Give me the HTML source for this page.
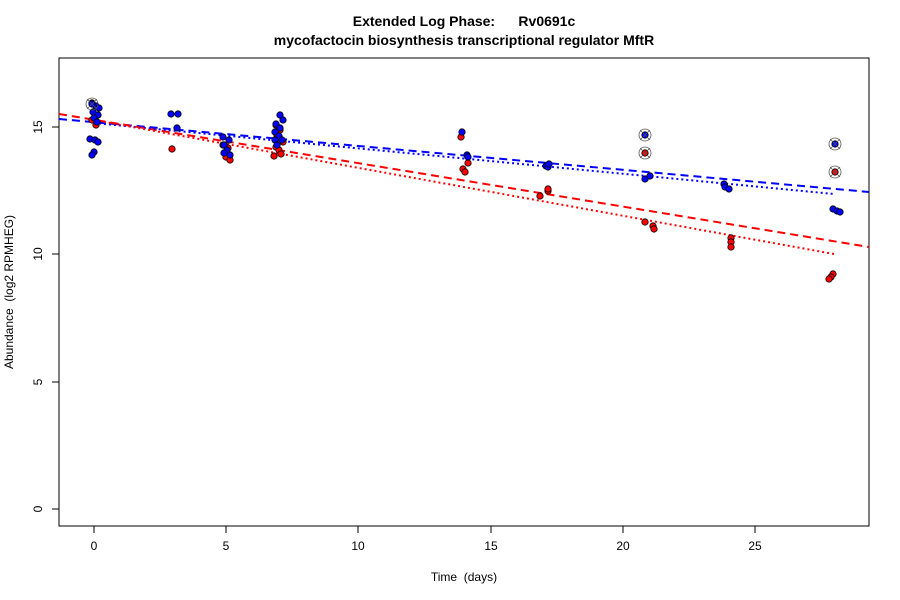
<!DOCTYPE html>
<html><head><meta charset="utf-8"><style>body{margin:0;background:#fff}svg{display:block}text{font-family:"Liberation Sans",sans-serif}</style></head><body>
<svg width="900" height="600" viewBox="0 0 900 600">
<text x="464" y="26" text-anchor="middle" font-size="14" font-weight="bold">Extended Log Phase:&#160;&#160;&#160;&#160;&#160;&#160;Rv0691c</text>
<text x="464" y="45" text-anchor="middle" font-size="14" font-weight="bold">mycofactocin biosynthesis transcriptional regulator MftR</text>
<rect x="59" y="58" width="810" height="468" fill="none" stroke="#000"/>
<g stroke="#000">
<line x1="94" y1="526" x2="755" y2="526"/>
<line x1="94" y1="526" x2="94" y2="533"/><line x1="226" y1="526" x2="226" y2="533"/><line x1="358" y1="526" x2="358" y2="533"/><line x1="491" y1="526" x2="491" y2="533"/><line x1="623" y1="526" x2="623" y2="533"/><line x1="755" y1="526" x2="755" y2="533"/>
<line x1="59" y1="127" x2="59" y2="509"/>
<line x1="52" y1="509" x2="59" y2="509"/><line x1="52" y1="382" x2="59" y2="382"/><line x1="52" y1="254" x2="59" y2="254"/><line x1="52" y1="127" x2="59" y2="127"/>
</g>
<g font-size="12" text-anchor="middle">
<text x="94" y="550">0</text><text x="226" y="550">5</text><text x="358" y="550">10</text><text x="491" y="550">15</text><text x="623" y="550">20</text><text x="755" y="550">25</text>
<text transform="translate(42,509) rotate(-90)">0</text><text transform="translate(42,382) rotate(-90)">5</text><text transform="translate(42,254) rotate(-90)">10</text><text transform="translate(42,127) rotate(-90)">15</text>
<text x="464" y="581">Time&#160;&#160;(days)</text>
<text transform="translate(13,292) rotate(-90)">Abundance&#160;&#160;(log2 RPMHEG)</text>
</g>
<g stroke-width="2" fill="none">
<line x1="59" y1="119" x2="869" y2="192" stroke="#00f" stroke-dasharray="8,5"/>
<line x1="59" y1="114" x2="869" y2="247" stroke="#f00" stroke-dasharray="8,5"/>
<line x1="94" y1="123" x2="834" y2="194" stroke="#00f" stroke-dasharray="2,3"/>
<line x1="94" y1="120" x2="834" y2="254" stroke="#f00" stroke-dasharray="2,3"/>
</g>
<g stroke="#000" stroke-width="0.8" fill="#f00">
<circle cx="92" cy="120" r="3.2"/><circle cx="96" cy="125" r="3.2"/><circle cx="172" cy="149" r="3.2"/>
<circle cx="223" cy="145" r="3.2"/><circle cx="228" cy="148" r="3.2"/><circle cx="225" cy="153" r="3.2"/><circle cx="229" cy="155" r="3.2"/><circle cx="226" cy="157" r="3.2"/><circle cx="230" cy="160" r="3.2"/>
<circle cx="276" cy="125" r="3.2"/><circle cx="280" cy="130" r="3.2"/><circle cx="277" cy="135" r="3.2"/><circle cx="283" cy="142" r="3.2"/><circle cx="276" cy="147" r="3.2"/><circle cx="279" cy="150" r="3.2"/><circle cx="281" cy="154" r="3.2"/><circle cx="274" cy="156" r="3.2"/>
<circle cx="461" cy="137" r="3.2"/><circle cx="468" cy="163" r="3.2"/><circle cx="463" cy="169" r="3.2"/><circle cx="465" cy="172" r="3.2"/>
<circle cx="540" cy="196" r="3.2"/><circle cx="548" cy="191" r="3.2"/><circle cx="548" cy="189" r="3.2"/>
<circle cx="645" cy="222" r="3.2"/><circle cx="653" cy="226" r="3.2"/><circle cx="654" cy="229" r="3.2"/>
<circle cx="731" cy="238" r="3.2"/><circle cx="731" cy="242" r="3.2"/><circle cx="731" cy="247" r="3.2"/>
<circle cx="833" cy="274" r="3.2"/><circle cx="831" cy="277" r="3.2"/><circle cx="829" cy="279" r="3.2"/>
</g>
<g stroke="#000" stroke-width="0.8" fill="#00f">
<circle cx="92" cy="103" r="3.2"/><circle cx="96" cy="106" r="3.2"/><circle cx="99" cy="108" r="3.2"/><circle cx="93" cy="112" r="3.2"/><circle cx="98" cy="115" r="3.2"/><circle cx="94" cy="118" r="3.2"/><circle cx="97" cy="122" r="3.2"/>
<circle cx="90" cy="139" r="3.2"/><circle cx="95" cy="140" r="3.2"/><circle cx="98" cy="142" r="3.2"/><circle cx="94" cy="152" r="3.2"/><circle cx="92" cy="155" r="3.2"/>
<circle cx="171" cy="114" r="3.2"/><circle cx="178" cy="114" r="3.2"/><circle cx="177" cy="128" r="3.2"/>
<circle cx="223" cy="137" r="3.2"/><circle cx="229" cy="140" r="3.2"/><circle cx="224" cy="145" r="3.2"/><circle cx="227" cy="150" r="3.2"/><circle cx="224" cy="153" r="3.2"/><circle cx="230" cy="155" r="3.2"/>
<circle cx="280" cy="115" r="3.2"/><circle cx="283" cy="120" r="3.2"/><circle cx="276" cy="124" r="3.2"/><circle cx="280" cy="128" r="3.2"/><circle cx="275" cy="132" r="3.2"/><circle cx="279" cy="136" r="3.2"/><circle cx="275" cy="140" r="3.2"/><circle cx="282" cy="140" r="3.2"/><circle cx="277" cy="145" r="3.2"/>
<circle cx="462" cy="132" r="3.2"/><circle cx="467" cy="155" r="3.2"/><circle cx="468" cy="157" r="3.2"/>
<circle cx="546" cy="166" r="3.2"/><circle cx="548" cy="167" r="3.2"/><circle cx="549" cy="164" r="3.2"/>
<circle cx="645" cy="179" r="3.2"/><circle cx="650" cy="176" r="3.2"/>
<circle cx="724" cy="184" r="3.2"/><circle cx="725" cy="187" r="3.2"/><circle cx="729" cy="189" r="3.2"/>
<circle cx="833" cy="209" r="3.2"/><circle cx="837" cy="211" r="3.2"/><circle cx="840" cy="212" r="3.2"/>
</g>
<g stroke="#000" stroke-width="0.8">
<circle cx="645" cy="135" r="3.2" fill="#00f"/><circle cx="645" cy="153" r="3.2" fill="#f00"/>
<circle cx="835" cy="144" r="3.2" fill="#00f"/><circle cx="835" cy="172" r="3.2" fill="#f00"/>
<circle cx="92" cy="104" r="3.2" fill="#00f"/>
</g>
<g stroke="#555" stroke-width="0.8" fill="none">
<circle cx="645" cy="135" r="6"/><circle cx="645" cy="153" r="6"/><circle cx="835" cy="144" r="6"/><circle cx="835" cy="172" r="6"/><circle cx="92" cy="104" r="6"/>
<path d="M640 130l10 10M650 130l-10 10M640 148l10 10M650 148l-10 10M830 139l10 10M840 139l-10 10M830 167l10 10M840 167l-10 10M87 99l10 10M97 99l-10 10"/>
</g>
</svg>
</body></html>
